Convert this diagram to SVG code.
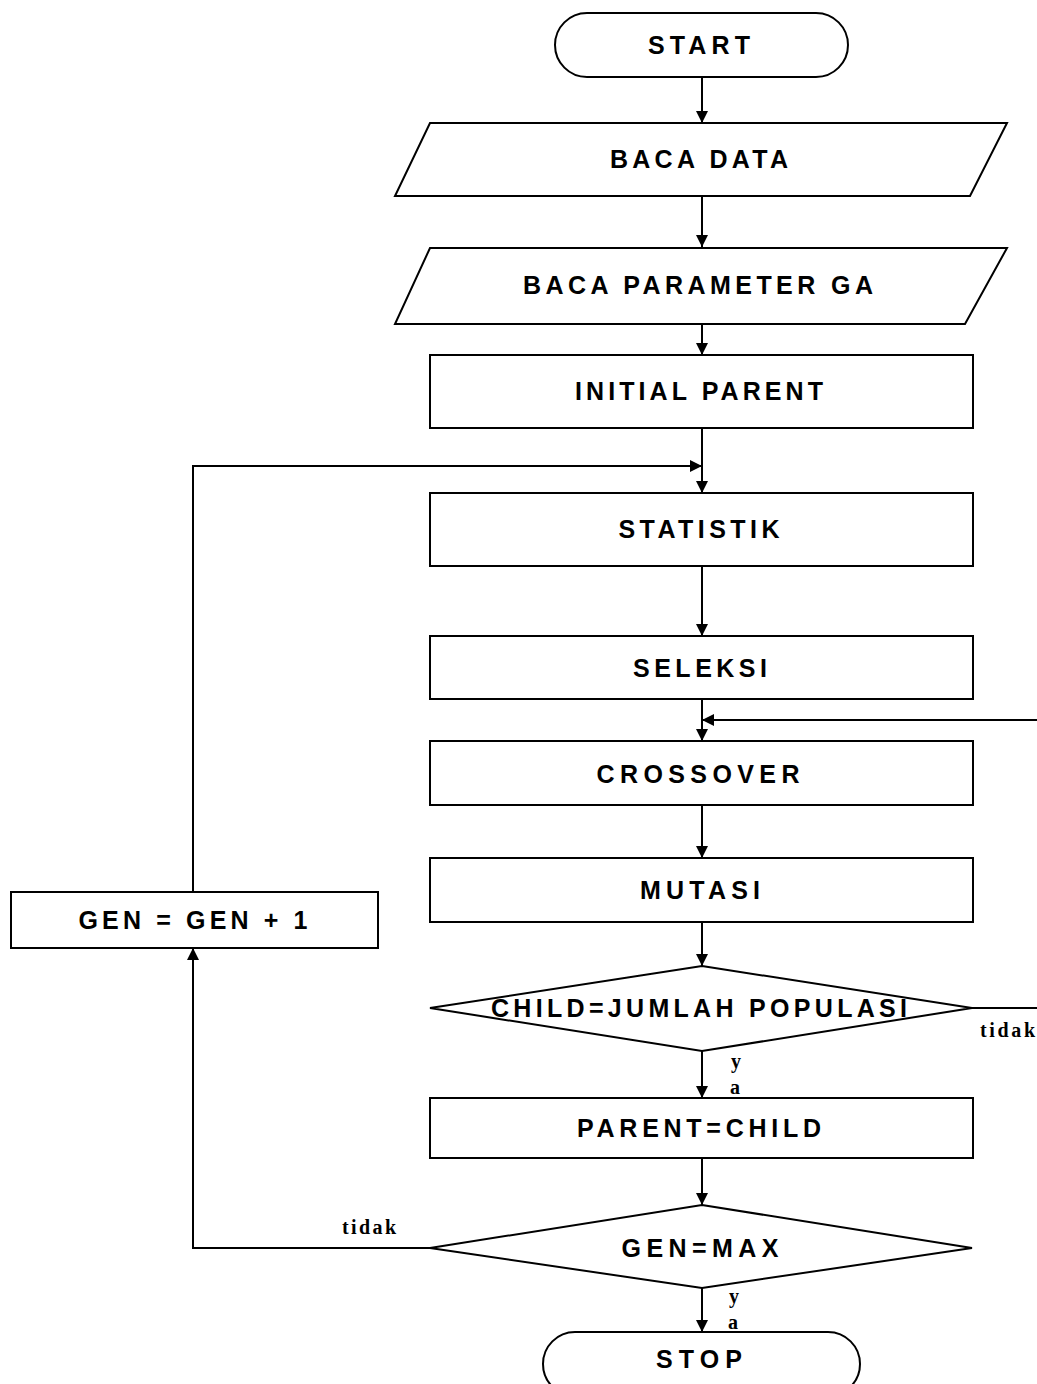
<svg xmlns="http://www.w3.org/2000/svg" width="1037" height="1384" viewBox="0 0 1037 1384">
<style>
.s{fill:#fff;stroke:#000;stroke-width:2}
.t{font-family:"Liberation Sans",Arial,sans-serif;font-weight:bold;font-size:25px;text-anchor:middle;fill:#000}
.l{font-family:"Liberation Serif","Times New Roman",serif;font-weight:bold;font-size:20px;fill:#000}
.c{fill:none;stroke:#000;stroke-width:2}
</style>
<defs>
<marker id="a" viewBox="0 0 10 10" refX="10" refY="5" markerWidth="12" markerHeight="12" markerUnits="userSpaceOnUse" orient="auto">
<path d="M0,0 L10,5 L0,10 z" fill="#000"/>
</marker>
</defs>
<rect width="1037" height="1384" fill="#fff"/>
<g id="connectors">
<path class="c" d="M702,77 V123" marker-end="url(#a)"/>
<path class="c" d="M702,196 V247" marker-end="url(#a)"/>
<path class="c" d="M702,324 V355" marker-end="url(#a)"/>
<path class="c" d="M702,428 V493" marker-end="url(#a)"/>
<path class="c" d="M193,892 V466 H702" marker-end="url(#a)"/>
<path class="c" d="M702,566 V636" marker-end="url(#a)"/>
<path class="c" d="M702,699 V741" marker-end="url(#a)"/>
<path class="c" d="M1037,720 H702" marker-end="url(#a)"/>
<path class="c" d="M702,805 V858" marker-end="url(#a)"/>
<path class="c" d="M702,922 V966" marker-end="url(#a)"/>
<path class="c" d="M972,1008 H1037"/>
<path class="c" d="M702,1051 V1098" marker-end="url(#a)"/>
<path class="c" d="M702,1158 V1205" marker-end="url(#a)"/>
<path class="c" d="M430,1248 H193 V948" marker-end="url(#a)"/>
<path class="c" d="M702,1288 V1332" marker-end="url(#a)"/>
<text class="l" x="980" y="1037" textLength="55" lengthAdjust="spacing">tidak</text>
<text class="l" x="731" y="1068">y</text>
<text class="l" x="730" y="1094">a</text>
<text class="l" x="342" y="1234" textLength="54" lengthAdjust="spacing">tidak</text>
<text class="l" x="729" y="1303">y</text>
<text class="l" x="728" y="1329">a</text>
</g>
<g id="start"><rect class="s" x="555" y="13" width="293" height="64" rx="32"/><text class="t" x="699" y="54" textLength="102" lengthAdjust="spacing">START</text></g>
<g id="baca-data"><polygon class="s" points="430,123 1007,123 970,196 395,196"/><text class="t" x="699" y="168" textLength="178" lengthAdjust="spacing">BACA DATA</text></g>
<g id="baca-parameter"><polygon class="s" points="430,248 1007,248 965,324 395,324"/><text class="t" x="698" y="294" textLength="350" lengthAdjust="spacing">BACA PARAMETER GA</text></g>
<g id="initial-parent"><rect class="s" x="430" y="355" width="543" height="73"/><text class="t" x="699" y="400" textLength="248" lengthAdjust="spacing">INITIAL PARENT</text></g>
<g id="statistik"><rect class="s" x="430" y="493" width="543" height="73"/><text class="t" x="699" y="538" textLength="161" lengthAdjust="spacing">STATISTIK</text></g>
<g id="seleksi"><rect class="s" x="430" y="636" width="543" height="63"/><text class="t" x="700" y="677" textLength="134" lengthAdjust="spacing">SELEKSI</text></g>
<g id="crossover"><rect class="s" x="430" y="741" width="543" height="64"/><text class="t" x="698" y="783" textLength="203" lengthAdjust="spacing">CROSSOVER</text></g>
<g id="mutasi"><rect class="s" x="430" y="858" width="543" height="64"/><text class="t" x="700" y="899" textLength="120" lengthAdjust="spacing">MUTASI</text></g>
<g id="child-check"><polygon class="s" points="702,966 972,1008 702,1051 430,1008"/><text class="t" x="699" y="1017" textLength="416" lengthAdjust="spacing">CHILD=JUMLAH POPULASI</text></g>
<g id="parent-child"><rect class="s" x="430" y="1098" width="543" height="60"/><text class="t" x="699" y="1137" textLength="244" lengthAdjust="spacing">PARENT=CHILD</text></g>
<g id="gen-max"><polygon class="s" points="702,1205 972,1248 702,1288 430,1248"/><text class="t" x="700" y="1257" textLength="157" lengthAdjust="spacing">GEN=MAX</text></g>
<g id="stop"><rect class="s" x="543" y="1332" width="317" height="64" rx="32"/><text class="t" x="699" y="1368" textLength="86" lengthAdjust="spacing">STOP</text></g>
<g id="gen-inc"><rect class="s" x="11" y="892" width="367" height="56"/><text class="t" x="193" y="929" textLength="229" lengthAdjust="spacing">GEN = GEN + 1</text></g>
</svg>
